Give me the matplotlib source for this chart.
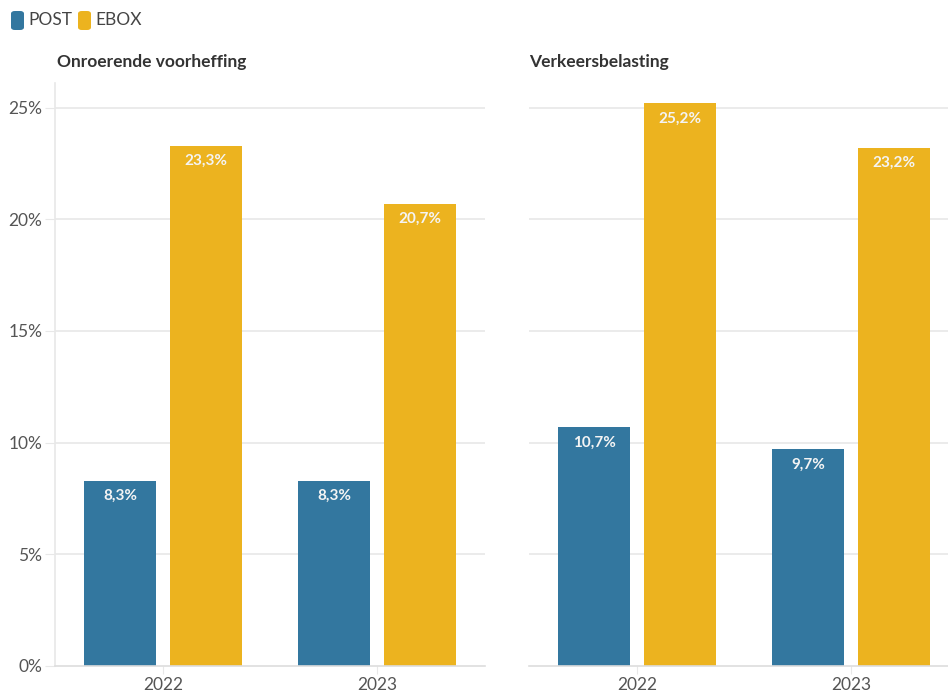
import matplotlib
matplotlib.use("Agg")
import matplotlib.pyplot as plt
from matplotlib.patches import FancyBboxPatch
import numpy as np

plt.rcParams['font.family'] = ['Lato', 'DejaVu Sans']

years = ["2022", "2023"]
series = ["POST", "EBOX"]
colors = {"POST": "#33779f", "EBOX": "#ecb31f"}
panels = ["Onroerende voorheffing", "Verkeersbelasting"]
values = {
    "Onroerende voorheffing": {"POST": [8.3, 8.3], "EBOX": [23.3, 20.7]},
    "Verkeersbelasting": {"POST": [10.7, 9.7], "EBOX": [25.2, 23.2]},
}
yticks = [0, 5, 10, 15, 20, 25]

W, H = 948, 694
fig = plt.figure(figsize=(W / 100, H / 100), dpi=100)

grid_c = "#e8e8e8"
tick_c = "#555555"

ax_boxes = [
    (55, 83, 485, 666, (-0.505, 1.505)),
    (529, 83, 948, 666, (-0.505, 1.453)),
]

x = np.arange(len(years))
bw = 0.336
off = 0.2

for i, (name, box) in enumerate(zip(panels, ax_boxes)):
    x0, y0, x1, y1, xl = box
    ax = fig.add_axes([x0 / W, 1 - y1 / H, (x1 - x0) / W, (y1 - y0) / H])
    ax.set_xlim(*xl)
    ax.set_ylim(0, 26.1)
    for s in ax.spines.values():
        s.set_visible(False)
    if i == 0:
        ax.spines['left'].set_visible(True)
        ax.spines['left'].set_color(grid_c)
        ax.spines['left'].set_linewidth(1.2)
    ax.spines['bottom'].set_visible(True)
    ax.spines['bottom'].set_color("#dddddd")
    ax.spines['bottom'].set_linewidth(1.2)
    ax.set_yticks(yticks)
    if i == 0:
        ax.set_yticklabels([f"{v}%" for v in yticks], fontsize=12.5, color=tick_c)
        ax.tick_params(axis='y', length=7, color=grid_c, pad=2)
    else:
        ax.tick_params(axis='y', length=0, labelleft=False)
    ax.set_xticks(x)
    ax.set_xticklabels(years, fontsize=12.5, color=tick_c)
    ax.tick_params(axis='x', length=6, color=grid_c, pad=2)
    for t in yticks[1:]:
        ax.axhline(t, color=grid_c, lw=1.2, zorder=0)
    for j, s in enumerate(series):
        vals = values[name][s]
        pos = x + (-off if j == 0 else off)
        ax.bar(pos, vals, width=bw, color=colors[s], zorder=2)
        for p, v in zip(pos, vals):
            ax.annotate(f"{v:.1f}%".replace(".", ","), (p, v), xytext=(0, -6),
                        textcoords="offset points", ha="center", va="top",
                        color="#f4f4f4", fontsize=11, fontweight="bold", zorder=3)
    fig.text((57 if i == 0 else x0) / W, 1 - 62 / H, name, fontsize=12.5,
             fontweight="bold", color="#333333", va="center", ha="left")

# legend
lx = 11
for s in series:
    fig.patches.append(FancyBboxPatch((lx / W, 1 - 30 / H), 13 / W, 19 / H,
                                      boxstyle="round,pad=0,rounding_size=0.004",
                                      transform=fig.transFigure, facecolor=colors[s],
                                      edgecolor="none"))
    fig.text((lx + 17) / W, 1 - 20 / H, s, fontsize=12.5, color="#444444",
             va="center", ha="left")
    lx += 67

fig.savefig("out.png", dpi=100)
